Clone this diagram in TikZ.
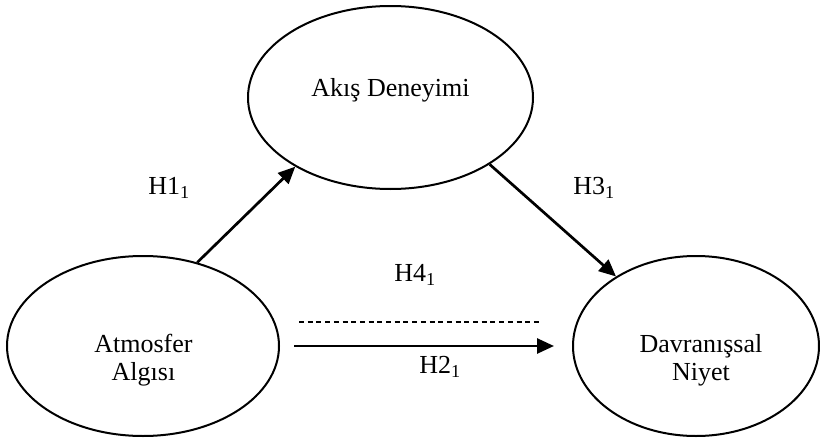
\documentclass[tikz,border=0pt]{standalone}
\usepackage{fontspec}
\setmainfont{Liberation Serif}
\usetikzlibrary{arrows.meta,shapes.geometric}

\begin{document}
\begin{tikzpicture}[x=1pt,y=-1pt,
  oval/.style={draw,ellipse,line width=2pt,inner sep=0pt},
  arr/.style={-{Triangle[length=17pt,width=15pt]},line width=2.7pt},
  every node/.style={font=\fontsize{26}{28}\selectfont}]
\useasboundingbox (0,0) rectangle (820,439);

% the three constructs
\node[oval,minimum width=285pt,minimum height=183pt] (akis) at (390.5,97.5) {};
\node[oval,minimum width=272pt,minimum height=180pt] (atmosfer) at (143,346) {};
\node[oval,minimum width=246pt,minimum height=180pt] (davranis) at (696,346) {};

\node[align=center] (akisText) at (390.5,90) {Akış Deneyimi};
\node[align=center] (atmosferText) at (143.5,360) {Atmosfer\\Algısı};
\node[align=center] (davranisText) at (701,360) {Davranışsal\\Niyet};

% paths
\draw[arr] (atmosfer.57.7) -- (akis.216);
\draw[arr] (akis.326.6) -- (davranis.139.8);
\draw[arr,shorten <=14pt,shorten >=18pt] (atmosfer.east) -- (davranis.west);

\coordinate (dashL) at (299,322);
\coordinate (dashR) at (542,322);
\draw[line width=1.5pt,dash pattern=on 5pt off 3.7pt] (dashL) -- (dashR);

% hypotheses
\node (h1) at (169,188) {H1\textsubscript{1}};
\node (h3) at (594,188) {H3\textsubscript{1}};
\node (h4) at (415,275) {H4\textsubscript{1}};
\node (h2) at (440,367) {H2\textsubscript{1}};
\end{tikzpicture}
\end{document}
